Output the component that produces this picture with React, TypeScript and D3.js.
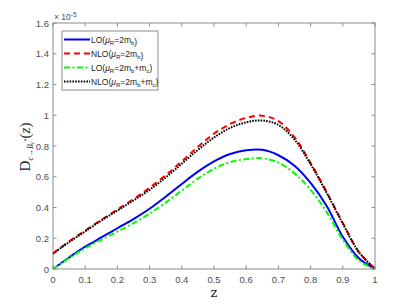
import React from "react";
import * as d3 from "d3";

const zValues = [0, 0.05, 0.1, 0.15, 0.2, 0.25, 0.3, 0.35, 0.4, 0.45, 0.5, 0.55, 0.6, 0.65, 0.7, 0.75, 0.8, 0.85, 0.9, 0.95, 1];
const loMb = [0, 0.075, 0.145, 0.205, 0.265, 0.325, 0.392, 0.47, 0.553, 0.633, 0.7, 0.748, 0.772, 0.775, 0.74, 0.672, 0.56, 0.41, 0.21, 0.07, 0];
const nloMb = [0.1, 0.18, 0.25, 0.32, 0.387, 0.455, 0.528, 0.61, 0.7, 0.795, 0.88, 0.943, 0.983, 0.997, 0.962, 0.857, 0.69, 0.5, 0.3, 0.11, 0];
const loMbMc = [0, 0.07, 0.135, 0.19, 0.243, 0.298, 0.36, 0.432, 0.51, 0.588, 0.652, 0.695, 0.715, 0.72, 0.692, 0.622, 0.515, 0.37, 0.19, 0.055, 0];
const nloMbMc = [0.1, 0.175, 0.245, 0.315, 0.38, 0.446, 0.515, 0.595, 0.685, 0.775, 0.855, 0.917, 0.954, 0.966, 0.937, 0.842, 0.682, 0.495, 0.295, 0.11, 0];

const xTicks = [0, 0.1, 0.2, 0.3, 0.4, 0.5, 0.6, 0.7, 0.8, 0.9, 1];
const yTicks = [0, 0.2, 0.4, 0.6, 0.8, 1, 1.2, 1.4, 1.6];

const seriesList = [
  { values: loMb, color: "#0000ff", dash: "", suffix: "" },
  { values: nloMb, color: "#ff0000", dash: "6,4", suffix: "" },
  { values: loMbMc, color: "#00ff00", dash: "6,2.5,2,2.5", suffix: "+m" },
  { values: nloMbMc, color: "#000000", dash: "1.6,1.2", suffix: "+m" },
];
const legendPrefix = ["LO", "NLO", "LO", "NLO"];

export default function App() {
  const W = 415, H = 304;
  const left = 53, right = 375, top = 23, bottom = 269;
  const x = d3.scaleLinear().domain([0, 1]).range([left, right]);
  const y = d3.scaleLinear().domain([0, 1.6]).range([bottom, top]);
  const line = d3
    .line<number>()
    .x((_, i) => x(zValues[i]))
    .y((d) => y(d))
    .curve(d3.curveCatmullRom.alpha(0.5));
  const axisColor = "#8c8c8c";
  const textColor = "#4d4d4d";
  const tickLen = 3.5;
  const font = "'Liberation Sans', Arial, sans-serif";

  return (
    <svg width={W} height={H} style={{ position: "absolute", left: 0, top: 0 }}>
      <rect x={0} y={0} width={W} height={H} fill="#fff" />
      {seriesList.map((s, i) => (
        <path
          key={i}
          d={line(s.values) || ""}
          fill="none"
          stroke={s.color}
          strokeWidth={2}
          strokeDasharray={s.dash || undefined}
        />
      ))}
      <rect x={left} y={top} width={right - left} height={bottom - top} fill="none" stroke={axisColor} strokeWidth={1} />
      {xTicks.map((t) => (
        <g key={"x" + t}>
          <line x1={x(t)} x2={x(t)} y1={bottom} y2={bottom - tickLen} stroke={axisColor} />
          <line x1={x(t)} x2={x(t)} y1={top} y2={top + tickLen} stroke={axisColor} />
          <text x={x(t)} y={283} fontSize={9.5} fontFamily={font} fill={textColor} textAnchor="middle">
            {String(t)}
          </text>
        </g>
      ))}
      {yTicks.map((t) => (
        <g key={"y" + t}>
          <line x1={left} x2={left + tickLen} y1={y(t)} y2={y(t)} stroke={axisColor} />
          <line x1={right} x2={right - tickLen} y1={y(t)} y2={y(t)} stroke={axisColor} />
          <text x={49} y={y(t) + 3.5} fontSize={9.5} fontFamily={font} fill={textColor} textAnchor="end">
            {String(t)}
          </text>
        </g>
      ))}
      <text x={54} y={20} fontSize={8.5} fontFamily={font} fill={textColor}>
        × 10
        <tspan dy={-3.5} fontSize={6.5}>-5</tspan>
      </text>
      <text x={214} y={297} fontSize={13} fontFamily="'DejaVu Serif', 'Liberation Serif', serif" fill="#222" textAnchor="middle">
        z
      </text>
      <g transform="translate(30,147) rotate(-90)">
        <text x={0} y={0} fontSize={15} fontFamily="'Liberation Serif', 'DejaVu Serif', serif" fill="#222" textAnchor="middle">
          D
          <tspan dy={2.5} fontSize={8} fontStyle="italic">c→B</tspan>
          <tspan dy={1.5} fontSize={6} fontStyle="italic">c</tspan>
          <tspan dy={-6.5} fontSize={6}>*</tspan>
          <tspan dy={2.5} fontSize={15}>(</tspan>
          <tspan fontStyle="italic" fontSize={15}>z</tspan>
          <tspan fontSize={15}>)</tspan>
        </text>
      </g>
      <rect x={62} y={31} width={96} height={59} fill="#fff" stroke={axisColor} strokeWidth={1} />
      {seriesList.map((s, i) => {
        const ly = 39.5 + i * 14;
        return (
          <g key={"l" + i}>
            <line x1={64} x2={90} y1={ly} y2={ly} stroke={s.color} strokeWidth={2} strokeDasharray={s.dash || undefined} />
            <text x={91} y={ly + 3} fontSize={8.5} fontFamily={font} fill="#222">
              {legendPrefix[i]}(
              <tspan fontStyle="italic">μ</tspan>
              <tspan dy={2.5} fontSize={6}>R</tspan>
              <tspan dy={-2.5}>=2m</tspan>
              <tspan dy={2.5} fontSize={6}>b</tspan>
              <tspan dy={-2.5}>{s.suffix}</tspan>
              {s.suffix ? (
                <>
                  <tspan dy={2.5} fontSize={6}>c</tspan>
                  <tspan dy={-2.5}>)</tspan>
                </>
              ) : (
                <tspan>)</tspan>
              )}
            </text>
          </g>
        );
      })}
    </svg>
  );
}
